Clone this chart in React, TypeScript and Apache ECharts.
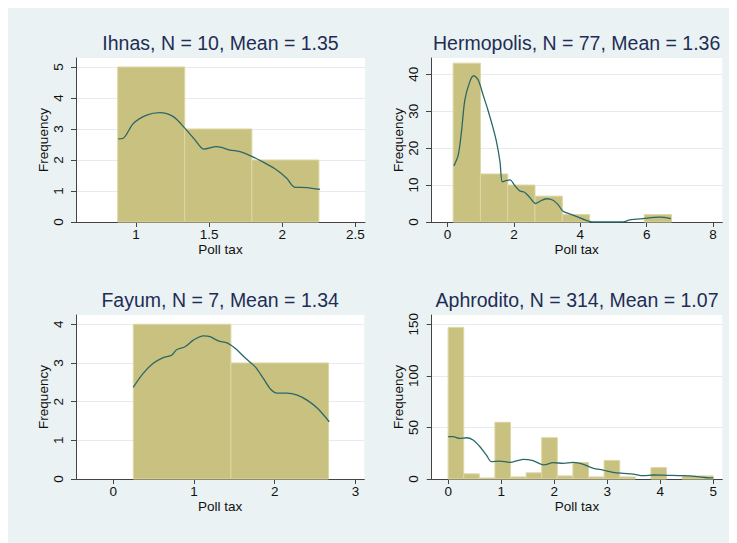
import React, { useEffect, useRef } from "react";
import * as echarts from "echarts";

// ---- Data ----
const titles = [
  "Ihnas, N = 10, Mean = 1.35",
  "Hermopolis, N = 77, Mean = 1.36",
  "Fayum, N = 7, Mean = 1.34",
  "Aphrodito, N = 314, Mean = 1.07",
];

const ihnasEdges = [0.875, 1.333, 1.792, 2.25];
const ihnasFreq = [5, 3, 2];
const ihnasDensity = [
  [0.879, 2.68], [0.913, 2.7], [0.982, 3.18], [1.073, 3.45], [1.164, 3.53],
  [1.255, 3.4], [1.335, 3.02], [1.403, 2.65], [1.465, 2.35], [1.551, 2.43],
  [1.643, 2.32], [1.711, 2.27], [1.795, 2.11], [1.87, 1.93], [1.962, 1.68],
  [2.03, 1.41], [2.087, 1.12], [2.167, 1.11], [2.258, 1.05],
];

const hermEdges = [0.167, 0.99, 1.813, 2.635, 3.458, 4.281, 5.104, 5.927, 6.75];
const hermFreq = [43, 13, 10, 7, 2, 0, 0, 2];
const hermDensity = [
  [0.19, 15.2], [0.32, 18.1], [0.42, 24.6], [0.52, 33], [0.67, 38], [0.79, 39.6],
  [0.92, 38.5], [1.07, 34.4], [1.22, 30.2], [1.37, 25.5], [1.47, 21.9], [1.58, 16.3],
  [1.65, 10.9], [1.76, 11.2], [1.88, 11.4], [2.03, 9.8], [2.18, 8.4], [2.33, 8.0],
  [2.48, 6.6], [2.66, 5.0], [2.78, 5.6], [2.98, 6.3], [3.18, 5.9], [3.33, 4.7],
  [3.48, 2.9], [3.68, 2.2], [3.88, 1.5], [4.14, 0.56], [4.34, 0.05], [4.8, 0],
  [5.29, 0.05], [5.49, 0.56], [5.89, 0.93], [6.39, 1.3], [6.73, 0.93],
];

const fayumEdges = [0.25, 1.458, 2.667];
const fayumFreq = [4, 3];
const fayumDensity = [
  [0.248, 2.37], [0.372, 2.73], [0.496, 2.99], [0.62, 3.14], [0.724, 3.2],
  [0.786, 3.34], [0.89, 3.42], [0.993, 3.59], [1.117, 3.7], [1.2, 3.68],
  [1.303, 3.57], [1.41, 3.52], [1.51, 3.38], [1.64, 3.12], [1.76, 2.9],
  [1.86, 2.6], [1.95, 2.32], [2.03, 2.22], [2.15, 2.22], [2.28, 2.17],
  [2.4, 2.04], [2.53, 1.83], [2.676, 1.48],
];

const aphroEdges = [
  0, 0.294, 0.588, 0.882, 1.176, 1.471, 1.765, 2.059, 2.353, 2.647, 2.941,
  3.235, 3.529, 3.824, 4.118, 4.412, 4.706, 5,
];
const aphroFreq = [147, 5, 1, 55, 2, 6, 40, 3, 16, 2, 18, 2, 0, 11, 0, 3, 3];
const aphroDensity = [
  [0, 41], [0.094, 41], [0.22, 39.4], [0.347, 40], [0.47, 37.8], [0.6, 31.3],
  [0.72, 23.3], [0.82, 16.8], [0.975, 17.4], [1.16, 16.1], [1.415, 19.1],
  [1.6, 17.8], [1.806, 13.6], [1.98, 15.8], [2.17, 15.2], [2.36, 16.1],
  [2.55, 14.2], [2.74, 10.3], [2.92, 8.7], [3.11, 6.5], [3.3, 5.5], [3.49, 4.8],
  [3.68, 3.2], [3.87, 3.9], [4.12, 3.6], [4.43, 3.2], [4.69, 2.3], [4.88, 1.2],
  [5.0, 1.0],
];

const xTicks = [[1, 1.5, 2, 2.5], [0, 2, 4, 6, 8], [0, 1, 2, 3], [0, 1, 2, 3, 4, 5]];
const yTicks = [[0, 1, 2, 3, 4, 5], [0, 10, 20, 30, 40], [0, 1, 2, 3, 4], [0, 50, 100, 150]];
const xRanges = [[0.59, 2.565], [-0.5, 8.28], [-0.46, 3.11], [-0.31, 5.17]];
const yRanges = [[0, 5.29], [0, 44.4], [0, 4.24], [0, 159]];

// ---- Layout / styles ----
const grids = [
  { left: 68, top: 50, width: 289, height: 164 },
  { left: 423, top: 50, width: 291.3, height: 164 },
  { left: 68, top: 307, width: 288.3, height: 164 },
  { left: 423.7, top: 307, width: 290.6, height: 164 },
];
const FONT = "'Liberation Sans', Arial, Helvetica, sans-serif";
const BG = "#eaf2f3";
const BAR_FILL = "#c9c17f";
const BAR_STROKE = "#dcd6a3";
const LINE = "#2a6868";
const TITLE = "#1f2d55";

export default function App() {
  const ref = useRef<HTMLDivElement>(null);
  useEffect(() => {
    document.documentElement.style.overflow = "hidden";
    const chart = echarts.init(ref.current!, undefined, { renderer: "svg" });

    const edgesList = [ihnasEdges, hermEdges, fayumEdges, aphroEdges];
    const freqList = [ihnasFreq, hermFreq, fayumFreq, aphroFreq];
    const densList = [ihnasDensity, hermDensity, fayumDensity, aphroDensity];

    const xAxis: any[] = [];
    const yAxis: any[] = [];
    const series: any[] = [];
    const graphic: any[] = [];

    for (let i = 0; i < 4; i++) {
      const g = grids[i];
      xAxis.push({
        type: "value",
        gridIndex: i,
        min: xRanges[i][0],
        max: xRanges[i][1],
        name: "Poll tax",
        nameLocation: "middle",
        nameGap: 20,
        nameTextStyle: { fontFamily: FONT, fontSize: 13.5, color: "#111" },
        axisLine: { show: true, onZero: false, lineStyle: { color: "#444", width: 1 } },
        axisTick: { show: true, length: 5, customValues: xTicks[i], lineStyle: { color: "#444" } },
        axisLabel: {
          customValues: xTicks[i],
          margin: 5,
          fontFamily: FONT,
          fontSize: 13.5,
          color: "#111",
        },
        splitLine: { show: false },
      });
      yAxis.push({
        type: "value",
        gridIndex: i,
        min: yRanges[i][0],
        max: yRanges[i][1],
        interval: yTicks[i][1] - yTicks[i][0],
        name: "Frequency",
        nameLocation: "middle",
        nameRotate: 90,
        nameGap: 26,
        nameTextStyle: { fontFamily: FONT, fontSize: 13.5, color: "#111" },
        axisLine: { show: true, onZero: false, lineStyle: { color: "#444", width: 1 } },
        axisTick: { show: true, length: 5, customValues: yTicks[i], lineStyle: { color: "#444" } },
        axisLabel: {
          customValues: yTicks[i],
          rotate: 90,
          margin: 11,
          fontFamily: FONT,
          fontSize: 13.5,
          color: "#111",
        },
        splitLine: { show: true, lineStyle: { color: "#e3ecee", width: 1 } },
      });

      const edges = edgesList[i];
      const freq = freqList[i];
      const barData = freq.map((f, k) => [edges[k], edges[k + 1], f]);
      series.push({
        type: "custom",
        xAxisIndex: i,
        yAxisIndex: i,
        data: barData,
        encode: { x: [0, 1], y: 2 },
        renderItem: (params: any, api: any) => {
          const x0 = api.value(0);
          const x1 = api.value(1);
          const h = api.value(2);
          if (!h) return null;
          const p0 = api.coord([x0, h]);
          const p1 = api.coord([x1, 0]);
          return {
            type: "rect",
            shape: { x: p0[0], y: p0[1], width: p1[0] - p0[0], height: p1[1] - p0[1] },
            style: { fill: BAR_FILL, stroke: BAR_STROKE, lineWidth: 1 },
          };
        },
        z: 2,
      });
      series.push({
        type: "line",
        xAxisIndex: i,
        yAxisIndex: i,
        data: densList[i],
        showSymbol: false,
        smooth: 0.3,
        lineStyle: { color: LINE, width: 1.3 },
        z: 3,
      });

      graphic.push({
        type: "text",
        x: g.left + g.width / 2,
        y: g.top - 14.7,
        style: {
          text: titles[i],
          fontFamily: FONT,
          fontSize: 19.5,
          fill: TITLE,
          textAlign: "center",
          textVerticalAlign: "middle",
        },
      });
    }

    chart.setOption({
      animation: false,
      backgroundColor: BG,
      grid: grids.map((g) => ({ ...g, show: true, backgroundColor: "#fff", borderWidth: 0 })),
      xAxis,
      yAxis,
      series,
      graphic,
    });
    return () => chart.dispose();
  }, []);
  return <div ref={ref} style={{ width: 729, height: 535 }} />;
}
